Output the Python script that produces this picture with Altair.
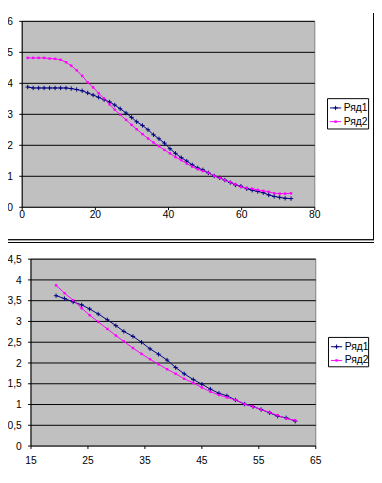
import altair as alt
import pandas as pd

# ---------------- data ----------------
X = [1.5, 3.0, 4.5, 6.0, 7.5, 9.0, 10.5, 12.0, 13.4, 14.9, 16.4, 17.9, 19.4, 20.9,
     22.4, 23.9, 25.3, 26.8, 28.4, 29.9, 31.3, 32.9, 34.4, 35.9, 37.4, 38.9, 40.4,
     41.9, 43.5, 45.0, 46.5, 48.0, 49.4, 50.9, 52.5, 54.0, 55.4, 56.9, 58.3, 59.8,
     61.4, 62.9, 64.4, 65.9, 67.4, 68.9, 70.4, 71.9, 73.5]
Y1 = [3.88, 3.85, 3.85, 3.85, 3.85, 3.85, 3.85, 3.85, 3.83, 3.80, 3.76, 3.69, 3.62,
      3.55, 3.47, 3.40, 3.30, 3.18, 3.04, 2.90, 2.76, 2.64, 2.50, 2.34, 2.21, 2.07,
      1.89, 1.74, 1.60, 1.49, 1.37, 1.27, 1.21, 1.11, 1.01, 0.95, 0.88, 0.80, 0.72,
      0.68, 0.60, 0.55, 0.51, 0.47, 0.40, 0.35, 0.32, 0.29, 0.28]
Y2 = [4.82, 4.82, 4.82, 4.82, 4.80, 4.79, 4.76, 4.68, 4.57, 4.42, 4.24, 4.03, 3.87,
      3.68, 3.51, 3.32, 3.15, 2.99, 2.82, 2.66, 2.52, 2.36, 2.22, 2.09, 1.97, 1.85,
      1.74, 1.62, 1.52, 1.41, 1.31, 1.23, 1.17, 1.11, 1.01, 0.95, 0.88, 0.81, 0.74,
      0.66, 0.62, 0.60, 0.56, 0.53, 0.50, 0.45, 0.44, 0.44, 0.45]
SERIES = ["Ряд1", "Ряд2"]
BOT_FIRST, BOT_LAST = 12, 40          # points shown in the lower chart

TOP_X_TICKS = [0, 20, 40, 60, 80]
TOP_Y_TICKS = [0, 1, 2, 3, 4, 5, 6]
TOP_Y_LABELS = ["0", "1", "2", "3", "4", "5", "6"]
BOT_X_TICKS = [15, 25, 35, 45, 55, 65]
BOT_Y_TICKS = [0, 0.5, 1, 1.5, 2, 2.5, 3, 3.5, 4, 4.5]
BOT_Y_LABELS = ["0", "0,5", "1", "1,5", "2", "2,5", "3", "3,5", "4", "4,5"]

NAVY = "#000080"
MAGENTA = "#FF00FF"
PLOT_BG = "#C0C0C0"
BORDER = "#808080"
FONT = "Liberation Sans"
PLUS = "M-1,0L1,0M0,-1L0,1"

TOP = dict(xdom=[0, 80], xr=[14.5, 313.5], ydom=[0, 6], yr=[198.5, 8.5],
           xticks=TOP_X_TICKS, yticks=TOP_Y_TICKS, ylabels=TOP_Y_LABELS,
           xlab_dy=11, ylab_dx=-9.5,
           leg_box=(326.5, 368.5, 87.5, 118.5), leg_y=(97, 111),
           first=0, last=len(X) - 1)
BOT = dict(xdom=[15, 65], xr=[23.5, 314.5], ydom=[0, 4.5], yr=[442.5, 251.5],
           xticks=BOT_X_TICKS, yticks=BOT_Y_TICKS, ylabels=BOT_Y_LABELS,
           xlab_dy=18, ylab_dx=-9.5,
           leg_box=(327.5, 368.5, 331.5, 361.5), leg_y=(341, 355),
           first=BOT_FIRST, last=BOT_LAST)


def ex(c, f):
    return alt.X(f, type="quantitative", axis=None,
                 scale=alt.Scale(domain=c["xdom"], range=c["xr"], nice=False, zero=False))


def ey(c, f):
    return alt.Y(f, type="quantitative", axis=None,
                 scale=alt.Scale(domain=c["ydom"], range=c["yr"], nice=False, zero=False))


one = pd.DataFrame({"k": [0]})


def panel(c):
    x0, x1 = c["xdom"]
    y0, y1 = c["ydom"]
    frame = pd.DataFrame({"x0": [x0], "x1": [x1], "y0": [y0], "y1": [y1]})
    yt = pd.DataFrame({"v": c["yticks"], "lab": c["ylabels"], "x0": x0, "x1": x1})
    xt = pd.DataFrame({"v": c["xticks"], "lab": [str(t) for t in c["xticks"]], "y0": y0})
    sl = slice(c["first"], c["last"] + 1)
    s1 = pd.DataFrame({"x": X[sl], "y": Y1[sl]})
    s2 = pd.DataFrame({"x": X[sl], "y": Y2[sl]})

    layers = [
        alt.Chart(frame).mark_rect(fill=PLOT_BG, stroke=BORDER, strokeWidth=1).encode(
            x=ex(c, "x0"), x2="x1", y=ey(c, "y0"), y2="y1"),
        alt.Chart(yt).mark_rule(color="black", strokeWidth=1, xOffset=-3).encode(
            y=ey(c, "v"), x=ex(c, "x0"), x2="x1"),
        alt.Chart(frame).mark_rule(color="black", strokeWidth=1).encode(
            x=ex(c, "x0"), y=ey(c, "y0"), y2="y1"),
        alt.Chart(xt).mark_rule(color="black", strokeWidth=1, y2Offset=3).encode(
            x=ex(c, "v"), y=ey(c, "y0"), y2="y0"),
        alt.Chart(s1).mark_line(color=NAVY, strokeWidth=1).encode(
            x=ex(c, "x"), y=ey(c, "y")),
        alt.Chart(s2).mark_line(color=MAGENTA, strokeWidth=1).encode(
            x=ex(c, "x"), y=ey(c, "y")),
        alt.Chart(s1).mark_point(shape=PLUS, size=20, filled=False, stroke=NAVY,
                                 strokeWidth=1, opacity=1).encode(
            x=ex(c, "x"), y=ey(c, "y")),
        alt.Chart(s2).mark_square(size=6, color=MAGENTA, opacity=1).encode(
            x=ex(c, "x"), y=ey(c, "y")),
        alt.Chart(xt).mark_text(font=FONT, fontSize=10.5, color="black", align="center",
                                baseline="alphabetic", dy=c["xlab_dy"]).encode(
            x=ex(c, "v"), y=ey(c, "y0"), text="lab"),
        alt.Chart(yt).mark_text(font=FONT, fontSize=10.5, color="black", align="right",
                                baseline="alphabetic", dx=c["ylab_dx"], dy=3.7).encode(
            x=ex(c, "x0"), y=ey(c, "v"), text="lab"),
    ]

    # legend
    bx0, bx1, by0, by1 = c["leg_box"]
    layers.append(alt.Chart(one).mark_rect(fill="white", stroke="black", strokeWidth=1).encode(
        x=alt.value(bx0), x2=alt.value(bx1), y=alt.value(by0), y2=alt.value(by1)))
    lx0, lx1 = bx0 + 2.5, bx0 + 14
    mid = (lx0 + lx1) / 2
    for i, (name, col) in enumerate(zip(SERIES, [NAVY, MAGENTA])):
        ly = c["leg_y"][i]
        layers.append(alt.Chart(one).mark_rule(color=col, strokeWidth=1).encode(
            x=alt.value(lx0), x2=alt.value(lx1), y=alt.value(ly)))
        if i == 0:
            layers.append(alt.Chart(one).mark_point(shape=PLUS, size=20, filled=False,
                                                    stroke=NAVY, strokeWidth=1, opacity=1).encode(
                x=alt.value(mid), y=alt.value(ly)))
        else:
            layers.append(alt.Chart(one).mark_square(size=6, color=MAGENTA, opacity=1).encode(
                x=alt.value(mid), y=alt.value(ly)))
        layers.append(alt.Chart(one).mark_text(font=FONT, fontSize=10.5, color="black",
                                               align="left", baseline="middle").encode(
            x=alt.value(lx1 + 2.5), y=alt.value(ly), text=alt.value(name)))
    return layers


decor = [
    alt.Chart(one).mark_rule(color="black", strokeWidth=1).encode(
        x=alt.value(0), x2=alt.value(374), y=alt.value(231.5)),
    alt.Chart(one).mark_rule(color="black", strokeWidth=1).encode(
        x=alt.value(373.5), y=alt.value(0), y2=alt.value(231.5)),
    alt.Chart(one).mark_rule(color="#A0A0A0", strokeWidth=1).encode(
        x=alt.value(0), x2=alt.value(374), y=alt.value(232.5)),
    alt.Chart(one).mark_rule(color="black", strokeWidth=1).encode(
        x=alt.value(0), x2=alt.value(374), y=alt.value(234.5)),
]

chart = alt.layer(*(panel(TOP) + decor + panel(BOT))).resolve_scale(
    x="independent", y="independent"
).properties(
    width=374, height=470, autosize="none", padding=0, background="white"
).configure_view(stroke=None)

chart.save("out.html", embed_options={"renderer": "svg", "actions": False})
